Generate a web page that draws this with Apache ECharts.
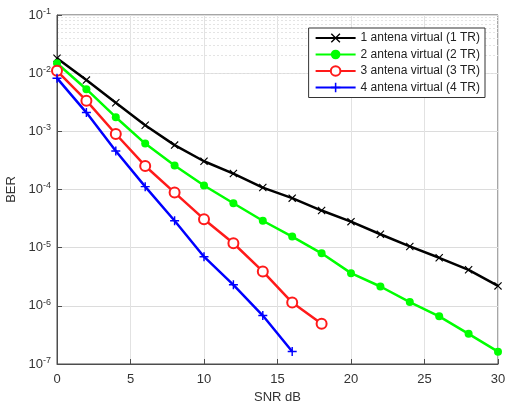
<!DOCTYPE html>
<html>
<head>
<meta charset="utf-8">
<script src="https://cdn.jsdelivr.net/npm/echarts@6/dist/echarts.min.js"></script>
<style>
html, body { margin: 0; padding: 0; background: #fff; }
#container { width: 506px; height: 407px; }
</style>
</head>
<body>
<div id="container"></div>
<script>
// SNR (dB)
var snr = [0, 2, 4, 6, 8, 10, 12, 14, 16, 18, 20, 22, 24, 26, 28, 30];

var names = ['1 antena virtual (1 TR)', '2 antena virtual (2 TR)', '3 antena virtual (3 TR)', '4 antena virtual (4 TR)'];

var ber1 = [1.8e-2, 7.6e-3, 3.1e-3, 1.27e-3, 5.8e-4, 3.06e-4, 1.88e-4, 1.08e-4, 7.1e-5, 4.35e-5, 2.8e-5, 1.7e-5, 1.05e-5, 6.7e-6, 4.16e-6, 2.2e-6];
var ber2 = [1.48e-2, 5.3e-3, 1.75e-3, 6.15e-4, 2.58e-4, 1.17e-4, 5.8e-5, 2.9e-5, 1.55e-5, 8.0e-6, 3.65e-6, 2.15e-6, 1.16e-6, 6.6e-7, 3.3e-7, 1.63e-7];
var ber3 = [1.1e-2, 3.37e-3, 9.0e-4, 2.54e-4, 8.85e-5, 3.09e-5, 1.19e-5, 3.9e-6, 1.14e-6, 4.9e-7];
var ber4 = [8.2e-3, 2.1e-3, 4.6e-4, 1.12e-4, 2.9e-5, 7.0e-6, 2.3e-6, 6.8e-7, 1.64e-7];

function pairs(ys) {
	var out = [];
	for (var i = 0; i < ys.length; i++) {
		out.push([snr[i], ys[i]]);
	}
	return out;
}

// minor grid lines for the log axis (2..9 in each decade)
var minorLines = [];
for (var e = -7; e < -1; e++) {
	for (var m = 2; m < 10; m++) {
		minorLines.push({ yAxis: m * Math.pow(10, e) });
	}
}

var xSym = 'path://M0,1 L1,0 L5,4 L9,0 L10,1 L6,5 L10,9 L9,10 L5,6 L1,10 L0,9 L4,5 Z';
var plusSym = 'path://M4.2,0 H5.8 V4.2 H10 V5.8 H5.8 V10 H4.2 V5.8 H0 V4.2 H4.2 Z';

var font = 'Arial, "Liberation Sans", sans-serif';
var myChart = echarts.init(document.getElementById('container'));

var option = {
	animation: false,
	textStyle: { fontFamily: font },
	grid: {
		left: 57, right: 8, top: 15, bottom: 43,
		outerBoundsMode: 'none',
		containLabel: false,
		show: true, borderColor: '#4d4d4d', borderWidth: 1
	},
	legend: {
		data: names,
		z: 20,
		orient: 'vertical',
		right: 21,
		top: 28,
		backgroundColor: '#fff',
		borderColor: '#333',
		borderWidth: 1,
		padding: [4, 5, 4, 6],
		itemWidth: 40,
		itemHeight: 12,
		itemGap: 4.5,
		textStyle: { fontSize: 12, color: '#222', fontFamily: font }
	},
	xAxis: {
		type: 'value',
		min: 0, max: 30, interval: 5,
		name: 'SNR dB',
		nameLocation: 'middle',
		nameGap: 26,
		nameTextStyle: { fontSize: 13, color: '#333' },
		axisLine: { lineStyle: { color: '#4d4d4d' } },
		axisTick: { inside: true, length: 5, lineStyle: { color: '#4d4d4d' } },
		axisLabel: { fontSize: 13, color: '#333', margin: 9 },
		splitLine: { lineStyle: { color: '#e2e2e2', width: 1 } }
	},
	yAxis: {
		type: 'log',
		logBase: 10,
		min: 1e-7, max: 1e-1,
		interval: 1,
		name: 'BER',
		nameLocation: 'middle',
		nameGap: 36,
		nameTextStyle: { fontSize: 13, color: '#333' },
		axisLine: { show: true, lineStyle: { color: '#4d4d4d' } },
		axisTick: { inside: true, length: 5, lineStyle: { color: '#4d4d4d' } },
		axisLabel: {
			margin: 6,
			formatter: function (v) {
				var ex = Math.round(Math.log10(v));
				return '{b|10}{s|' + ex + '}';
			},
			rich: {
				b: { fontSize: 13, color: '#333', fontFamily: font },
				s: { fontSize: 9, color: '#333', fontFamily: font, verticalAlign: 'top', padding: [0, 0, 7, 0] }
			}
		},
		splitLine: { lineStyle: { color: '#dcdcdc', width: 1 } }
	},
	series: [
		{
			name: 'grid-minor',
			type: 'line',
			data: [],
			silent: true,
			z: 0,
			markLine: {
				silent: true,
				z: 0,
				symbol: 'none',
				label: { show: false },
				lineStyle: { color: '#e4e4e4', type: [2, 2], width: 1 },
				data: minorLines
			}
		},
		{
			name: names[0], type: 'line', data: pairs(ber1),
			color: '#000000', lineStyle: { width: 2.5 },
			symbol: xSym, symbolSize: 8, showAllSymbol: true
		},
		{
			name: names[1], type: 'line', data: pairs(ber2),
			color: '#00ff00', lineStyle: { width: 2.5 },
			symbol: 'circle', symbolSize: 8, showAllSymbol: true
		},
		{
			name: names[2], type: 'line', data: pairs(ber3),
			color: '#ff1a1a', lineStyle: { width: 2.5 },
			symbol: 'emptyCircle', symbolSize: 10, itemStyle: { borderWidth: 2 }, showAllSymbol: true
		},
		{
			name: names[3], type: 'line', data: pairs(ber4),
			color: '#0000ff', lineStyle: { width: 2.5 },
			symbol: plusSym, symbolSize: 9, showAllSymbol: true
		}
	]
};
myChart.setOption(option);
</script>
</body>
</html>
